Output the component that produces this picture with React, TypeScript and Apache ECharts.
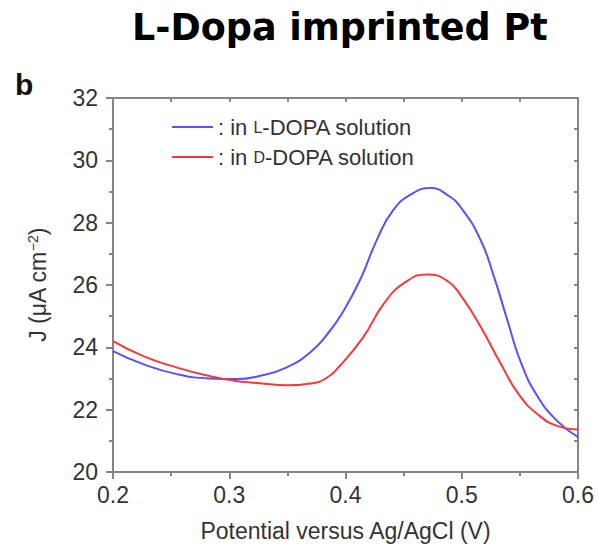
import React, { useEffect, useRef } from "react";
import * as echarts from "echarts";

const lDopa: [number, number][] = [
  [0.2, 23.88], [0.226, 23.46], [0.255, 23.14], [0.283, 23.0], [0.306, 22.98],
  [0.326, 23.08], [0.349, 23.35], [0.37, 23.85], [0.386, 24.5],
  [0.398, 25.15], [0.413, 26.2], [0.427, 27.45], [0.441, 28.4], [0.456, 28.9],
  [0.473, 29.11], [0.488, 28.88], [0.5, 28.45], [0.516, 27.46], [0.527, 26.35],
  [0.539, 24.9], [0.551, 23.5], [0.565, 22.44], [0.582, 21.64], [0.6, 21.12],
];

const dDopa: [number, number][] = [
  [0.2, 24.2], [0.226, 23.72], [0.255, 23.35], [0.283, 23.08], [0.306, 22.92],
  [0.326, 22.85], [0.349, 22.78], [0.37, 22.84], [0.383, 23.0], [0.395, 23.4],
  [0.415, 24.31], [0.433, 25.4], [0.45, 26.05], [0.47, 26.34], [0.488, 26.12],
  [0.5, 25.62], [0.516, 24.68], [0.533, 23.51], [0.55, 22.44], [0.567, 21.8],
  [0.582, 21.48], [0.6, 21.36],
];

const xTicks = { min: 0.2, max: 0.6, interval: 0.1 };
const yTicks = { min: 20, max: 32, interval: 2 };

const FONT = "'Liberation Sans', Arial, sans-serif";
const AXIS_COLOR = "#858585";
const TEXT_COLOR = "#333";

export default function App() {
  const ref = useRef<HTMLDivElement>(null);
  useEffect(() => {
    if (!ref.current) return;
    const chart = echarts.init(ref.current, undefined, { renderer: "svg" });
    const axisLine = { show: true, lineStyle: { color: AXIS_COLOR, width: 2 } };
    chart.setOption({
      animation: false,
      backgroundColor: "#fff",
      textStyle: { fontFamily: FONT },
      title: [
        {
          text: "L-Dopa imprinted Pt",
          left: 127,
          top: 4,
          textStyle: { fontFamily: "'DejaVu Sans', Verdana, sans-serif", fontWeight: "bold", fontSize: 36.5, color: "#000" },
        },
        {
          text: "b",
          left: 10,
          top: 64,
          textStyle: { fontFamily: FONT, fontWeight: "bold", fontSize: 30, color: "#111" },
        },
      ],
      legend: {
        orient: "vertical",
        left: 167,
        top: 111,
        itemWidth: 41,
        itemHeight: 2,
        itemGap: 8,
        icon: "rect",
        data: ["L", "D"],
        formatter: (name: string) => `{a|: in }{s|${name}}{a|-DOPA solution}`,
        textStyle: {
          color: TEXT_COLOR,
          rich: {
            a: { fontSize: 22, fontFamily: FONT, color: TEXT_COLOR },
            s: { fontSize: 16, fontFamily: FONT, color: TEXT_COLOR },
          },
        },
      },
      grid: { left: 113, right: 20, top: 98, bottom: 74 },
      xAxis: [
        {
          type: "value",
          position: "bottom",
          min: xTicks.min,
          max: xTicks.max,
          interval: xTicks.interval,
          axisLine,
          axisTick: { show: true, inside: false, length: 7, lineStyle: { color: AXIS_COLOR, width: 2 } },
          minorTick: { show: true, splitNumber: 2, length: 4, lineStyle: { color: AXIS_COLOR, width: 2 } },
          splitLine: { show: false },
          axisLabel: {
            fontSize: 23,
            color: TEXT_COLOR,
            margin: 11,
            fontFamily: FONT,
            formatter: (v: number) => v.toFixed(1),
          },
          name: "Potential versus Ag/AgCl (V)",
          nameLocation: "middle",
          nameGap: 47,
          nameTextStyle: { fontSize: 23, color: TEXT_COLOR, fontFamily: FONT },
        },
        {
          type: "value",
          position: "top",
          min: xTicks.min,
          max: xTicks.max,
          interval: 0.05,
          axisLine,
          axisTick: { show: true, inside: true, length: 4, lineStyle: { color: AXIS_COLOR, width: 2 } },
          axisLabel: { show: false },
          splitLine: { show: false },
        },
      ],
      yAxis: [
        {
          type: "value",
          position: "left",
          min: yTicks.min,
          max: yTicks.max,
          interval: yTicks.interval,
          axisLine,
          axisTick: { show: true, inside: false, length: 7, lineStyle: { color: AXIS_COLOR, width: 2 } },
          minorTick: { show: true, splitNumber: 2, length: 4, lineStyle: { color: AXIS_COLOR, width: 2 } },
          splitLine: { show: false },
          axisLabel: { fontSize: 23, color: TEXT_COLOR, margin: 15, fontFamily: FONT },
          name: "{a|J (μA cm}{sup|−2}{a|)}",
          nameLocation: "middle",
          nameGap: 63,
          nameTextStyle: {
            color: TEXT_COLOR,
            rich: {
              a: { fontSize: 23, fontFamily: FONT, color: TEXT_COLOR },
              sup: { fontSize: 14, fontFamily: FONT, color: TEXT_COLOR, verticalAlign: "top", padding: [0, 0, 10, 0] },
            },
          },
        },
        {
          type: "value",
          position: "right",
          min: yTicks.min,
          max: yTicks.max,
          interval: 1,
          axisLine,
          axisTick: { show: true, inside: true, length: 4, lineStyle: { color: AXIS_COLOR, width: 2 } },
          axisLabel: { show: false },
          splitLine: { show: false },
        },
      ],
      series: [
        {
          name: "L",
          type: "line",
          xAxisIndex: 0,
          yAxisIndex: 0,
          data: lDopa,
          smooth: 0.5,
          showSymbol: false,
          symbol: "none",
          lineStyle: { color: "#5a50ff", width: 2 },
          itemStyle: { color: "#5a50ff" },
        },
        {
          name: "D",
          type: "line",
          xAxisIndex: 0,
          yAxisIndex: 0,
          data: dDopa,
          smooth: 0.5,
          showSymbol: false,
          symbol: "none",
          lineStyle: { color: "#f23a3a", width: 2 },
          itemStyle: { color: "#f23a3a" },
        },
      ],
    });
    return () => chart.dispose();
  }, []);
  return (
    <div
      ref={ref}
      style={{ position: "fixed", left: 0, top: 0, width: 598, height: 547, background: "#fff" }}
    />
  );
}
